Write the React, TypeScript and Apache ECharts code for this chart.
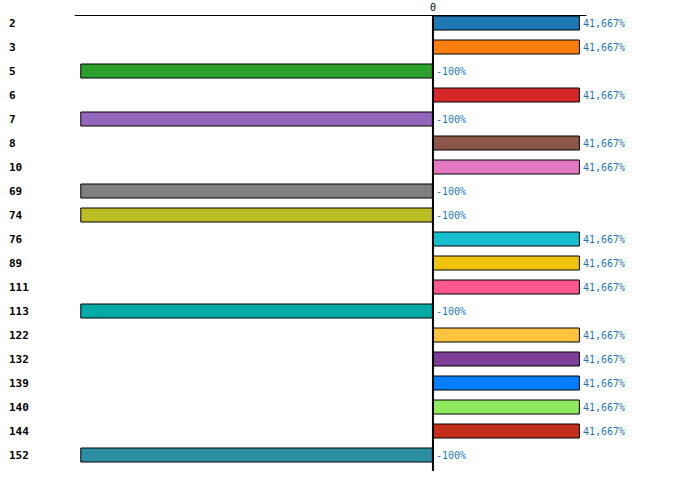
import React, { useEffect, useRef } from "react";
import * as echarts from "echarts";

const categories = ["2", "3", "5", "6", "7", "8", "10", "69", "74", "76", "89", "111", "113", "122", "132", "139", "140", "144", "152"];
const values = [41.667, 41.667, -100, 41.667, -100, 41.667, 41.667, -100, -100, 41.667, 41.667, 41.667, -100, 41.667, 41.667, 41.667, 41.667, 41.667, -100];
const colors = ["#1f77b4", "#ff7f0e", "#2ca02c", "#d62728", "#9467bd", "#8c564b", "#e377c2", "#7f7f7f", "#bcbd22", "#17becf", "#f0c30f", "#fe578e", "#00aaa6", "#fdc23e", "#7d3c98", "#0080ff", "#90ea60", "#c42e1b", "#2b8ea3"];
const xTickLabels = ["0"];

const MONO = "'DejaVu Sans Mono', 'Liberation Mono', monospace";

export default function App() {
  const ref = useRef<HTMLDivElement>(null);
  useEffect(() => {
    if (!ref.current) return;
    const chart = echarts.init(ref.current, null, { renderer: "svg" });
    const gridTop = 11;
    const gridHeight = 456;
    chart.setOption({
      animation: false,
      grid: { left: 75, right: 114, top: gridTop, height: gridHeight, containLabel: false },
      xAxis: {
        type: "value",
        position: "top",
        offset: -4,
        min: -101.5,
        max: 43.4,
        splitLine: { show: false },
        axisTick: { show: false },
        axisLine: { show: true, lineStyle: { color: "#000", width: 1 } },
        axisLabel: {
          margin: 3,
          fontFamily: MONO,
          fontSize: 10,
          color: "#000",
          showMinLabel: false,
          showMaxLabel: false,
          formatter: (v: number) => (xTickLabels.includes(String(v)) ? String(v) : ""),
        },
      },
      yAxis: {
        type: "category",
        inverse: true,
        data: categories,
        axisLine: { show: false, onZero: false },
        axisTick: { show: false },
        axisLabel: {
          align: "left",
          margin: 66,
          fontFamily: MONO,
          fontSize: 11,
          fontWeight: "bold",
          color: "#000",
        },
      },
      series: [
        {
          type: "bar",
          barWidth: 15,
          data: values.map((v, i) => ({
            value: v,
            itemStyle: { color: colors[i], borderColor: "#000", borderWidth: 1 },
          })),
          label: {
            show: true,
            position: "right",
            distance: 3,
            fontFamily: MONO,
            fontSize: 10,
            color: "#1f77b4",
            formatter: (p: any) => {
              const v = p.value as number;
              const s = Number.isInteger(v) ? String(v) : v.toFixed(3).replace(".", ",");
              return s + "%";
            },
          },
        },
      ],
    });
    const x0 = chart.convertToPixel({ xAxisIndex: 0 }, 0) as number;
    chart.setOption({
      graphic: [
        {
          type: "line",
          z: 100,
          shape: { x1: x0, y1: gridTop + 4, x2: x0, y2: gridTop + gridHeight + 4 },
          style: { stroke: "#000", lineWidth: 2 },
        },
      ],
    });
    return () => chart.dispose();
  }, []);
  return <div ref={ref} style={{ position: "absolute", left: 0, top: 0, width: 700, height: 501 }} />;
}
